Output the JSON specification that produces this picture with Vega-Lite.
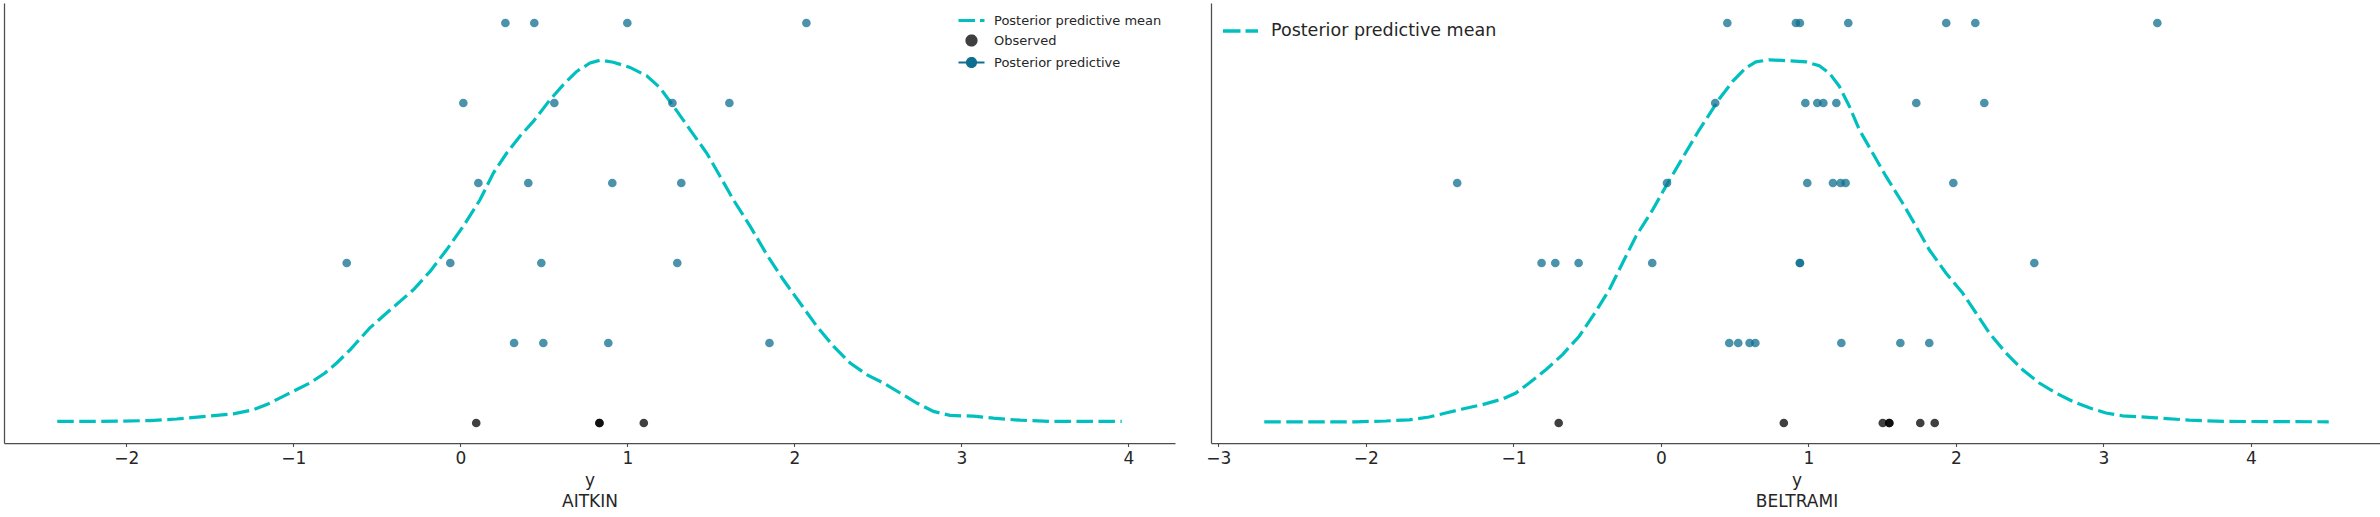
{
  "$schema": "https://vega.github.io/schema/vega-lite/v6.json",
  "background": "white",
  "padding": {"left": 4, "top": 3, "right": 0, "bottom": 0},
  "config": {
    "font": "DejaVu Sans",
    "view": {"stroke": null},
    "axis": {"labelFont": "DejaVu Sans", "titleFont": "DejaVu Sans", "labelColor": "#262626", "titleColor": "#262626", "domainColor": "#4d4d4d", "tickColor": "#4d4d4d", "domainWidth": 1.25, "tickWidth": 1.1, "grid": false},
    "legend": {"labelFont": "DejaVu Sans", "labelColor": "#262626", "padding": 0, "titlePadding": 0, "labelLimit": 0}
  },
  "datasets": {
    "kde": [
      {"county": "AITKIN", "x": -2.413, "y": 0.0004}, {"county": "AITKIN", "x": -2.158, "y": 0.0004}, {"county": "AITKIN", "x": -1.858, "y": 0.0006}, {"county": "AITKIN", "x": -1.698, "y": 0.0010}, {"county": "AITKIN", "x": -1.519, "y": 0.0017}, {"county": "AITKIN", "x": -1.359, "y": 0.0023}, {"county": "AITKIN", "x": -1.239, "y": 0.0033}, {"county": "AITKIN", "x": -1.159, "y": 0.0046}, {"county": "AITKIN", "x": -1.040, "y": 0.0071}, {"county": "AITKIN", "x": -0.900, "y": 0.0100}, {"county": "AITKIN", "x": -0.810, "y": 0.0125}, {"county": "AITKIN", "x": -0.740, "y": 0.0150}, {"county": "AITKIN", "x": -0.660, "y": 0.0183}, {"county": "AITKIN", "x": -0.541, "y": 0.0238}, {"county": "AITKIN", "x": -0.441, "y": 0.0275}, {"county": "AITKIN", "x": -0.281, "y": 0.0333}, {"county": "AITKIN", "x": -0.181, "y": 0.0379}, {"county": "AITKIN", "x": -0.082, "y": 0.0433}, {"county": "AITKIN", "x": 0.018, "y": 0.0492}, {"county": "AITKIN", "x": 0.118, "y": 0.0558}, {"county": "AITKIN", "x": 0.198, "y": 0.0625}, {"county": "AITKIN", "x": 0.278, "y": 0.0675}, {"county": "AITKIN", "x": 0.357, "y": 0.0717}, {"county": "AITKIN", "x": 0.437, "y": 0.0754}, {"county": "AITKIN", "x": 0.537, "y": 0.0808}, {"county": "AITKIN", "x": 0.617, "y": 0.0846}, {"county": "AITKIN", "x": 0.697, "y": 0.0879}, {"county": "AITKIN", "x": 0.777, "y": 0.0900}, {"county": "AITKIN", "x": 0.837, "y": 0.0907}, {"county": "AITKIN", "x": 0.916, "y": 0.0902}, {"county": "AITKIN", "x": 1.016, "y": 0.0889}, {"county": "AITKIN", "x": 1.116, "y": 0.0868}, {"county": "AITKIN", "x": 1.196, "y": 0.0838}, {"county": "AITKIN", "x": 1.276, "y": 0.0792}, {"county": "AITKIN", "x": 1.376, "y": 0.0733}, {"county": "AITKIN", "x": 1.475, "y": 0.0675}, {"county": "AITKIN", "x": 1.555, "y": 0.0617}, {"county": "AITKIN", "x": 1.635, "y": 0.0558}, {"county": "AITKIN", "x": 1.735, "y": 0.0492}, {"county": "AITKIN", "x": 1.835, "y": 0.0421}, {"county": "AITKIN", "x": 1.934, "y": 0.0358}, {"county": "AITKIN", "x": 2.034, "y": 0.0300}, {"county": "AITKIN", "x": 2.134, "y": 0.0242}, {"county": "AITKIN", "x": 2.234, "y": 0.0192}, {"county": "AITKIN", "x": 2.334, "y": 0.0150}, {"county": "AITKIN", "x": 2.433, "y": 0.0121}, {"county": "AITKIN", "x": 2.533, "y": 0.0100}, {"county": "AITKIN", "x": 2.633, "y": 0.0075}, {"county": "AITKIN", "x": 2.733, "y": 0.0050}, {"county": "AITKIN", "x": 2.833, "y": 0.0029}, {"county": "AITKIN", "x": 2.932, "y": 0.0019}, {"county": "AITKIN", "x": 3.072, "y": 0.0017}, {"county": "AITKIN", "x": 3.192, "y": 0.0012}, {"county": "AITKIN", "x": 3.351, "y": 0.0007}, {"county": "AITKIN", "x": 3.530, "y": 0.0004}, {"county": "AITKIN", "x": 3.960, "y": 0.0004},
      {"county": "BELTRAMI", "x": -2.689, "y": 0.0003}, {"county": "BELTRAMI", "x": -2.384, "y": 0.0003}, {"county": "BELTRAMI", "x": -2.068, "y": 0.0003}, {"county": "BELTRAMI", "x": -1.864, "y": 0.0005}, {"county": "BELTRAMI", "x": -1.706, "y": 0.0008}, {"county": "BELTRAMI", "x": -1.571, "y": 0.0015}, {"county": "BELTRAMI", "x": -1.458, "y": 0.0025}, {"county": "BELTRAMI", "x": -1.345, "y": 0.0035}, {"county": "BELTRAMI", "x": -1.209, "y": 0.0046}, {"county": "BELTRAMI", "x": -1.073, "y": 0.0060}, {"county": "BELTRAMI", "x": -0.983, "y": 0.0075}, {"county": "BELTRAMI", "x": -0.893, "y": 0.0100}, {"county": "BELTRAMI", "x": -0.780, "y": 0.0133}, {"county": "BELTRAMI", "x": -0.667, "y": 0.0171}, {"county": "BELTRAMI", "x": -0.554, "y": 0.0217}, {"county": "BELTRAMI", "x": -0.441, "y": 0.0279}, {"county": "BELTRAMI", "x": -0.350, "y": 0.0333}, {"county": "BELTRAMI", "x": -0.260, "y": 0.0400}, {"county": "BELTRAMI", "x": -0.169, "y": 0.0467}, {"county": "BELTRAMI", "x": -0.056, "y": 0.0533}, {"county": "BELTRAMI", "x": 0.034, "y": 0.0592}, {"county": "BELTRAMI", "x": 0.147, "y": 0.0663}, {"county": "BELTRAMI", "x": 0.260, "y": 0.0733}, {"county": "BELTRAMI", "x": 0.395, "y": 0.0810}, {"county": "BELTRAMI", "x": 0.486, "y": 0.0854}, {"county": "BELTRAMI", "x": 0.576, "y": 0.0888}, {"county": "BELTRAMI", "x": 0.644, "y": 0.0903}, {"county": "BELTRAMI", "x": 0.734, "y": 0.0908}, {"county": "BELTRAMI", "x": 0.847, "y": 0.0906}, {"county": "BELTRAMI", "x": 0.983, "y": 0.0903}, {"county": "BELTRAMI", "x": 1.073, "y": 0.0893}, {"county": "BELTRAMI", "x": 1.141, "y": 0.0875}, {"county": "BELTRAMI", "x": 1.209, "y": 0.0842}, {"county": "BELTRAMI", "x": 1.277, "y": 0.0792}, {"county": "BELTRAMI", "x": 1.345, "y": 0.0733}, {"county": "BELTRAMI", "x": 1.435, "y": 0.0675}, {"county": "BELTRAMI", "x": 1.525, "y": 0.0617}, {"county": "BELTRAMI", "x": 1.638, "y": 0.0550}, {"county": "BELTRAMI", "x": 1.729, "y": 0.0492}, {"county": "BELTRAMI", "x": 1.819, "y": 0.0433}, {"county": "BELTRAMI", "x": 1.932, "y": 0.0375}, {"county": "BELTRAMI", "x": 2.045, "y": 0.0325}, {"county": "BELTRAMI", "x": 2.136, "y": 0.0275}, {"county": "BELTRAMI", "x": 2.226, "y": 0.0225}, {"county": "BELTRAMI", "x": 2.339, "y": 0.0175}, {"county": "BELTRAMI", "x": 2.452, "y": 0.0133}, {"county": "BELTRAMI", "x": 2.565, "y": 0.0100}, {"county": "BELTRAMI", "x": 2.678, "y": 0.0075}, {"county": "BELTRAMI", "x": 2.791, "y": 0.0054}, {"county": "BELTRAMI", "x": 2.904, "y": 0.0038}, {"county": "BELTRAMI", "x": 3.017, "y": 0.0025}, {"county": "BELTRAMI", "x": 3.130, "y": 0.0018}, {"county": "BELTRAMI", "x": 3.356, "y": 0.0013}, {"county": "BELTRAMI", "x": 3.582, "y": 0.0007}, {"county": "BELTRAMI", "x": 3.831, "y": 0.0004}, {"county": "BELTRAMI", "x": 4.527, "y": 0.0003}
    ],
    "pts": [
      {"county": "AITKIN", "kind": "Posterior predictive", "x": 0.270, "y": 0.1}, {"county": "AITKIN", "kind": "Posterior predictive", "x": 0.443, "y": 0.1}, {"county": "AITKIN", "kind": "Posterior predictive", "x": 1.000, "y": 0.1}, {"county": "AITKIN", "kind": "Posterior predictive", "x": 2.072, "y": 0.1},
      {"county": "AITKIN", "kind": "Posterior predictive", "x": 0.018, "y": 0.08}, {"county": "AITKIN", "kind": "Posterior predictive", "x": 0.563, "y": 0.08}, {"county": "AITKIN", "kind": "Posterior predictive", "x": 1.270, "y": 0.08}, {"county": "AITKIN", "kind": "Posterior predictive", "x": 1.611, "y": 0.08},
      {"county": "AITKIN", "kind": "Posterior predictive", "x": 0.108, "y": 0.06}, {"county": "AITKIN", "kind": "Posterior predictive", "x": 0.407, "y": 0.06}, {"county": "AITKIN", "kind": "Posterior predictive", "x": 0.910, "y": 0.06}, {"county": "AITKIN", "kind": "Posterior predictive", "x": 1.323, "y": 0.06},
      {"county": "AITKIN", "kind": "Posterior predictive", "x": -0.680, "y": 0.04}, {"county": "AITKIN", "kind": "Posterior predictive", "x": -0.060, "y": 0.04}, {"county": "AITKIN", "kind": "Posterior predictive", "x": 0.485, "y": 0.04}, {"county": "AITKIN", "kind": "Posterior predictive", "x": 1.299, "y": 0.04},
      {"county": "AITKIN", "kind": "Posterior predictive", "x": 0.322, "y": 0.02}, {"county": "AITKIN", "kind": "Posterior predictive", "x": 0.497, "y": 0.02}, {"county": "AITKIN", "kind": "Posterior predictive", "x": 0.886, "y": 0.02}, {"county": "AITKIN", "kind": "Posterior predictive", "x": 1.851, "y": 0.02},
      {"county": "AITKIN", "kind": "Observed", "x": 0.0953, "y": 0}, {"county": "AITKIN", "kind": "Observed", "x": 0.8329, "y": 0}, {"county": "AITKIN", "kind": "Observed", "x": 0.8329, "y": 0}, {"county": "AITKIN", "kind": "Observed", "x": 1.0986, "y": 0},
      {"county": "BELTRAMI", "kind": "Posterior predictive", "x": 0.450, "y": 0.1}, {"county": "BELTRAMI", "kind": "Posterior predictive", "x": 0.915, "y": 0.1}, {"county": "BELTRAMI", "kind": "Posterior predictive", "x": 0.942, "y": 0.1}, {"county": "BELTRAMI", "kind": "Posterior predictive", "x": 1.270, "y": 0.1}, {"county": "BELTRAMI", "kind": "Posterior predictive", "x": 1.934, "y": 0.1}, {"county": "BELTRAMI", "kind": "Posterior predictive", "x": 2.131, "y": 0.1}, {"county": "BELTRAMI", "kind": "Posterior predictive", "x": 3.365, "y": 0.1},
      {"county": "BELTRAMI", "kind": "Posterior predictive", "x": 0.368, "y": 0.08}, {"county": "BELTRAMI", "kind": "Posterior predictive", "x": 0.979, "y": 0.08}, {"county": "BELTRAMI", "kind": "Posterior predictive", "x": 1.060, "y": 0.08}, {"county": "BELTRAMI", "kind": "Posterior predictive", "x": 1.101, "y": 0.08}, {"county": "BELTRAMI", "kind": "Posterior predictive", "x": 1.189, "y": 0.08}, {"county": "BELTRAMI", "kind": "Posterior predictive", "x": 1.731, "y": 0.08}, {"county": "BELTRAMI", "kind": "Posterior predictive", "x": 2.192, "y": 0.08},
      {"county": "BELTRAMI", "kind": "Posterior predictive", "x": -1.381, "y": 0.06}, {"county": "BELTRAMI", "kind": "Posterior predictive", "x": 0.041, "y": 0.06}, {"county": "BELTRAMI", "kind": "Posterior predictive", "x": 0.992, "y": 0.06}, {"county": "BELTRAMI", "kind": "Posterior predictive", "x": 1.166, "y": 0.06}, {"county": "BELTRAMI", "kind": "Posterior predictive", "x": 1.218, "y": 0.06}, {"county": "BELTRAMI", "kind": "Posterior predictive", "x": 1.252, "y": 0.06}, {"county": "BELTRAMI", "kind": "Posterior predictive", "x": 1.982, "y": 0.06},
      {"county": "BELTRAMI", "kind": "Posterior predictive", "x": -0.809, "y": 0.04}, {"county": "BELTRAMI", "kind": "Posterior predictive", "x": -0.716, "y": 0.04}, {"county": "BELTRAMI", "kind": "Posterior predictive", "x": -0.558, "y": 0.04}, {"county": "BELTRAMI", "kind": "Posterior predictive", "x": -0.059, "y": 0.04}, {"county": "BELTRAMI", "kind": "Posterior predictive", "x": 0.942, "y": 0.04}, {"county": "BELTRAMI", "kind": "Posterior predictive", "x": 0.942, "y": 0.04}, {"county": "BELTRAMI", "kind": "Posterior predictive", "x": 2.531, "y": 0.04},
      {"county": "BELTRAMI", "kind": "Posterior predictive", "x": 0.463, "y": 0.02}, {"county": "BELTRAMI", "kind": "Posterior predictive", "x": 0.524, "y": 0.02}, {"county": "BELTRAMI", "kind": "Posterior predictive", "x": 0.601, "y": 0.02}, {"county": "BELTRAMI", "kind": "Posterior predictive", "x": 0.640, "y": 0.02}, {"county": "BELTRAMI", "kind": "Posterior predictive", "x": 1.223, "y": 0.02}, {"county": "BELTRAMI", "kind": "Posterior predictive", "x": 1.623, "y": 0.02}, {"county": "BELTRAMI", "kind": "Posterior predictive", "x": 1.819, "y": 0.02},
      {"county": "BELTRAMI", "kind": "Observed", "x": -0.693, "y": 0}, {"county": "BELTRAMI", "kind": "Observed", "x": 0.833, "y": 0}, {"county": "BELTRAMI", "kind": "Observed", "x": 1.504, "y": 0}, {"county": "BELTRAMI", "kind": "Observed", "x": 1.548, "y": 0}, {"county": "BELTRAMI", "kind": "Observed", "x": 1.548, "y": 0}, {"county": "BELTRAMI", "kind": "Observed", "x": 1.758, "y": 0}, {"county": "BELTRAMI", "kind": "Observed", "x": 1.856, "y": 0}
    ]
  },
  "spacing": 30,
  "resolve": {"scale": {"color": "independent", "x": "independent", "y": "independent"}, "legend": {"color": "independent"}},
  "hconcat": [
    {
      "width": 1171,
      "height": 440,
      "layer": [
        {
          "data": {"name": "kde"},
          "transform": [{"filter": "datum.county === 'AITKIN'"}, {"calculate": "'Posterior predictive mean'", "as": "kind"}],
          "mark": {"type": "line", "strokeDash": [16.5, 5.5], "strokeWidth": 3.2},
          "encoding": {
            "x": {"field": "x", "type": "quantitative", "scale": {"domain": [-2.732, 4.279], "nice": false, "zero": false}, "axis": {"title": ["y", "AITKIN"], "values": [-2, -1, 0, 1, 2, 3, 4], "format": "d", "labelFontSize": 17, "titleFontSize": 17, "titleFontWeight": "normal", "tickSize": 3.5, "labelPadding": 4, "titlePadding": 6, "titleLineHeight": 21, "labelFlush": false}},
            "y": {"field": "y", "type": "quantitative", "scale": {"domain": [-0.005, 0.105], "nice": false, "zero": false}, "axis": {"title": null, "labels": false, "ticks": false, "grid": false}},
            "color": {"field": "kind", "type": "nominal", "scale": {"domain": ["Posterior predictive mean", "Observed", "Posterior predictive"], "range": ["#00bfbf", "#000000", "#0e6f8f"]},
              "legend": {"title": null, "orient": "none", "legendX": 961, "legendY": 11, "symbolSize": 676, "labelFontSize": 13, "labelOffset": 16, "labelLimit": 0, "symbolOffset": 0, "rowPadding": 1,
                "encode": {"symbols": {"update": {
                  "shape": {"signal": "datum.value === 'Observed' ? 'M-0.346,0A0.346,0.346 0 1,1 0.346,0A0.346,0.346 0 1,1 -0.346,0Z' : datum.value === 'Posterior predictive' ? 'M-1,0H1M-0.346,0A0.346,0.346 0 1,1 0.346,0A0.346,0.346 0 1,1 -0.346,0Z' : 'M-1,0H0.269M0.654,0H1'"},
                  "fill": {"signal": "datum.value === 'Observed' ? '#000000' : datum.value === 'Posterior predictive' ? '#0e6f8f' : 'transparent'"},
                  "stroke": {"signal": "datum.value === 'Observed' ? 'transparent' : datum.value === 'Posterior predictive' ? '#0e6f8f' : '#00bfbf'"},
                  "strokeWidth": {"signal": "datum.value === 'Posterior predictive' ? 2.2 : 3.2"},
                  "strokeDash": {"value": [1, 0]},
                  "size": {"value": 676},
                  "opacity": {"signal": "datum.value === 'Observed' ? 0.75 : 1"}, "fillOpacity": {"value": 1}, "strokeOpacity": {"value": 1}
                }}}
              }}
          }
        },
        {
          "data": {"name": "pts"},
          "transform": [{"filter": "datum.county === 'AITKIN'"}],
          "mark": {"type": "circle", "size": 75, "opacity": 0.75, "strokeWidth": 0},
          "encoding": {
            "x": {"field": "x", "type": "quantitative"},
            "y": {"field": "y", "type": "quantitative"},
            "color": {"field": "kind", "type": "nominal"}
          }
        }
      ]
    },
    {
      "width": 1171,
      "height": 440,
      "layer": [
        {
          "data": {"name": "kde"},
          "transform": [{"filter": "datum.county === 'BELTRAMI'"}, {"calculate": "'Posterior predictive mean'", "as": "kind"}],
          "mark": {"type": "line", "strokeDash": [16.5, 5.5], "strokeWidth": 3.2},
          "encoding": {
            "x": {"field": "x", "type": "quantitative", "scale": {"domain": [-3.05, 4.888], "nice": false, "zero": false}, "axis": {"title": ["y", "BELTRAMI"], "values": [-3, -2, -1, 0, 1, 2, 3, 4], "format": "d", "labelFontSize": 17, "titleFontSize": 17, "titleFontWeight": "normal", "tickSize": 3.5, "labelPadding": 4, "titlePadding": 6, "titleLineHeight": 21, "labelFlush": false}},
            "y": {"field": "y", "type": "quantitative", "scale": {"domain": [-0.005, 0.105], "nice": false, "zero": false}, "axis": {"title": null, "labels": false, "ticks": false, "grid": false}},
            "color": {"field": "kind", "type": "nominal", "scale": {"domain": ["Posterior predictive mean", "Observed", "Posterior predictive"], "range": ["#00bfbf", "#000000", "#0e6f8f"]},
              "legend": {"title": null, "orient": "none", "legendX": 10, "legendY": 8.5, "values": ["Posterior predictive mean"], "symbolSize": 1225, "labelFontSize": 17.5, "labelOffset": 11, "labelLimit": 0, "symbolOffset": 0, "rowPadding": 7,
                "encode": {"symbols": {"update": {
                  "shape": {"value": "M-1,0H0M0.286,0H1"},
                  "fill": {"value": "transparent"},
                  "stroke": {"value": "#00bfbf"},
                  "strokeWidth": {"value": 3.4},
                  "strokeDash": {"value": [1, 0]},
                  "size": {"value": 1225},
                  "opacity": {"value": 1}, "strokeOpacity": {"value": 1}
                }}}
              }}
          }
        },
        {
          "data": {"name": "pts"},
          "transform": [{"filter": "datum.county === 'BELTRAMI'"}],
          "mark": {"type": "circle", "size": 75, "opacity": 0.75, "strokeWidth": 0},
          "encoding": {
            "x": {"field": "x", "type": "quantitative"},
            "y": {"field": "y", "type": "quantitative"},
            "color": {"field": "kind", "type": "nominal"}
          }
        }
      ]
    }
  ]
}
